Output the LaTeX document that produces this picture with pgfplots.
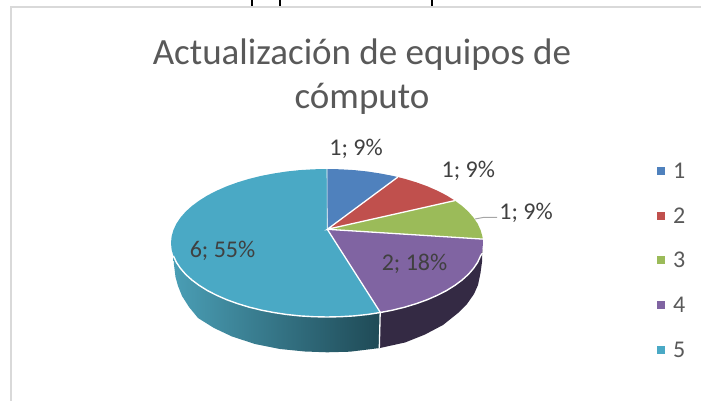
\documentclass[border=0pt]{standalone}
\usepackage{fontspec}
\setmainfont{Carlito}
\usepackage{pgfplots}
\pgfplotsset{compat=1.18}
\definecolor{cA}{HTML}{4F81BD}
\definecolor{cB}{HTML}{C0504D}
\definecolor{cC}{HTML}{9BBB59}
\definecolor{cD}{HTML}{8064A2}
\definecolor{cE}{HTML}{4AA9C5}
\definecolor{wallD}{HTML}{342A44}
\definecolor{wallL}{HTML}{4A9EB5}
\definecolor{wallM}{HTML}{3A7F93}
\definecolor{wallR}{HTML}{1F4A56}
\definecolor{titlec}{HTML}{595959}
\definecolor{labelc}{HTML}{404040}
\definecolor{framec}{HTML}{D9D9D9}
\begin{document}
\begin{tikzpicture}
\useasboundingbox (0,0) rectangle (701pt,401pt);
\begin{axis}[
  at={(0,0)}, anchor=south west,
  scale only axis, width=701pt, height=401pt,
  xmin=0, xmax=701, ymin=0, ymax=401, y dir=reverse,
  hide axis, clip=true,
  legend style={at={(axis cs:657,162)}, anchor=north west, draw=none, fill=none,
    font=\fontsize{24}{27}\selectfont\color{titlec},
    inner sep=0pt, row sep=28.8pt, column sep=8pt,
    nodes={inner sep=0pt, text height=16pt, text depth=0pt}},
  legend cell align=left,
  legend image code/.code={\fill[#1] (0pt,-4.5pt) rectangle (8pt,3.5pt);},
]
% frame and cut-off text above the chart
\addplot[forget plot, framec, line width=2.2pt] coordinates {(11,401)(11,7)(701,7)};
\addplot[forget plot, black, line width=2.2pt] coordinates {(252,0)(252,6)};
\addplot[forget plot, black, line width=2.2pt] coordinates {(280,0)(280,6)};
\addplot[forget plot, black, line width=2.2pt] coordinates {(432,0)(432,6)};
% side walls
\addplot[forget plot, draw=none, left color=wallL, middle color=wallM, right color=wallR] coordinates {
 (173.4,255.8)(174,265)(175.5,277)(178,286)(182,296)(189,307)(198,318)(214,328)(232,336.5)(255,344)(280,349)(305,351.5)(327,352.3)(350,351.7)(380,348)
 (380,312)(327,243)} -- cycle;
\addplot[forget plot, draw=none, fill=wallD] coordinates {
 (380,348)(405,342.5)(425,334.5)(443,325)(458,313)(467,304)(474,294)(478,285)(480.5,273)(482,262)(482.4,249.5)
 (327,243)(380,312)} -- cycle;
% top faces: values 1, 1, 1, 2, 6
\addplot[draw=none, fill=cA] coordinates {(327.3,229.3)(327,169)(340.6,169.3)(354.1,170.1)(367.4,171.5)(380.4,173.5)(392.9,175.9)(397.8,177.1)} -- cycle;
\addlegendentry{1}
\addplot[draw=none, fill=cB] coordinates {(327.3,229.3)(397.8,177.1)(405,178.9)(416.5,182.4)(427.3,186.3)(437.3,190.7)(446.5,195.4)(454.8,200.6)} -- cycle;
\addlegendentry{2}
\addplot[draw=none, fill=cC] coordinates {(327.3,229.3)(454.8,200.6)(462.1,206)(468.4,211.7)(473.6,217.7)(477.7,223.8)(480.6,230.2)(482.4,236.5)(482.8,239.1)} -- cycle;
\addlegendentry{3}
\addplot[draw=none, fill=cD] coordinates {(327.3,229.3)(482.8,239.1)(483,243)(482.4,249.5)(480.6,255.8)(477.7,262.2)(473.6,268.3)(468.4,274.3)(462.1,280)(454.8,285.4)(446.5,290.6)(437.3,295.3)(427.3,299.7)(416.5,303.6)(405,307.1)(392.9,310.1)(380.4,312.5)} -- cycle;
\addlegendentry{4}
\addplot[draw=none, fill=cE] coordinates {(327.3,229.3)(380.4,312.5)(367.4,314.5)(354.1,315.9)(340.6,316.7)(327,317)(313.4,316.7)(299.9,315.9)(286.6,314.5)(273.6,312.5)(261.1,310.1)(249,307.1)(237.5,303.6)(226.7,299.7)(216.7,295.3)(207.5,290.6)(199.2,285.4)(191.9,280)(185.6,274.3)(180.4,268.3)(176.3,262.2)(173.4,255.8)(171.6,249.5)(171,243)(171.6,236.5)(173.4,230.2)(176.3,223.8)(180.4,217.7)(185.6,211.7)(191.9,206)(199.2,200.6)(207.5,195.4)(216.7,190.7)(226.7,186.3)(237.5,182.4)(249,178.9)(261.1,175.9)(273.6,173.5)(286.6,171.5)(299.9,170.1)(313.4,169.3)(327,169)} -- cycle;
\addlegendentry{5}
% white separators
\addplot[forget plot, white, line width=1.3pt] coordinates {(397.8,177.1)(327.3,229.3)(454.8,200.6)};
\addplot[forget plot, white, line width=1.3pt] coordinates {(327.3,229.3)(482.8,239.1)};
\addplot[forget plot, white, line width=1.3pt] coordinates {(327.3,229.3)(380.4,312.5)};
\addplot[forget plot, white, line width=0.6pt] coordinates {(327.3,229.3)(327,169)};
\addplot[forget plot, white, line width=1.4pt] coordinates {(482.4,253)(480.6,255.8)(477.7,262.2)(473.6,268.3)(468.4,274.3)(462.1,280)(454.8,285.4)(446.5,290.6)(437.3,295.3)(427.3,299.7)(416.5,303.6)(405,307.1)(392.9,310.1)(380.4,312.5)(367.4,314.5)(354.1,315.9)(340.6,316.7)(327,317)(313.4,316.7)(299.9,315.9)(286.6,314.5)(273.6,312.5)(261.1,310.1)(249,307.1)(237.5,303.6)(226.7,299.7)(216.7,295.3)(207.5,290.6)(199.2,285.4)(191.9,280)(185.6,274.3)(180.4,268.3)(176.3,262.2)(173.4,255.8)};
\addplot[forget plot, white, line width=1.3pt] coordinates {(380.2,312.5)(379.3,348)};
% leader line
\addplot[forget plot, color=gray!70, line width=1pt] coordinates {(475,219)(483,217.5)(497,217.3)};
% title and data labels
\node[font=\fontsize{37}{44}\selectfont, text=titlec, align=center, anchor=center] at (axis cs:362,77) {Actualización de equipos de\\cómputo};
\node[font=\fontsize{24}{27}\selectfont, text=labelc] at (axis cs:356,148.5) {1; 9\%};
\node[font=\fontsize{24}{27}\selectfont, text=labelc] at (axis cs:468.3,170.5) {1; 9\%};
\node[font=\fontsize{24}{27}\selectfont, text=labelc] at (axis cs:526,212.5) {1; 9\%};
\node[font=\fontsize{24}{27}\selectfont, text=labelc] at (axis cs:222.5,251) {6; 55\%};
\node[font=\fontsize{24}{27}\selectfont, text=labelc] at (axis cs:414.5,264) {2; 18\%};
\end{axis}
\end{tikzpicture}
\end{document}
